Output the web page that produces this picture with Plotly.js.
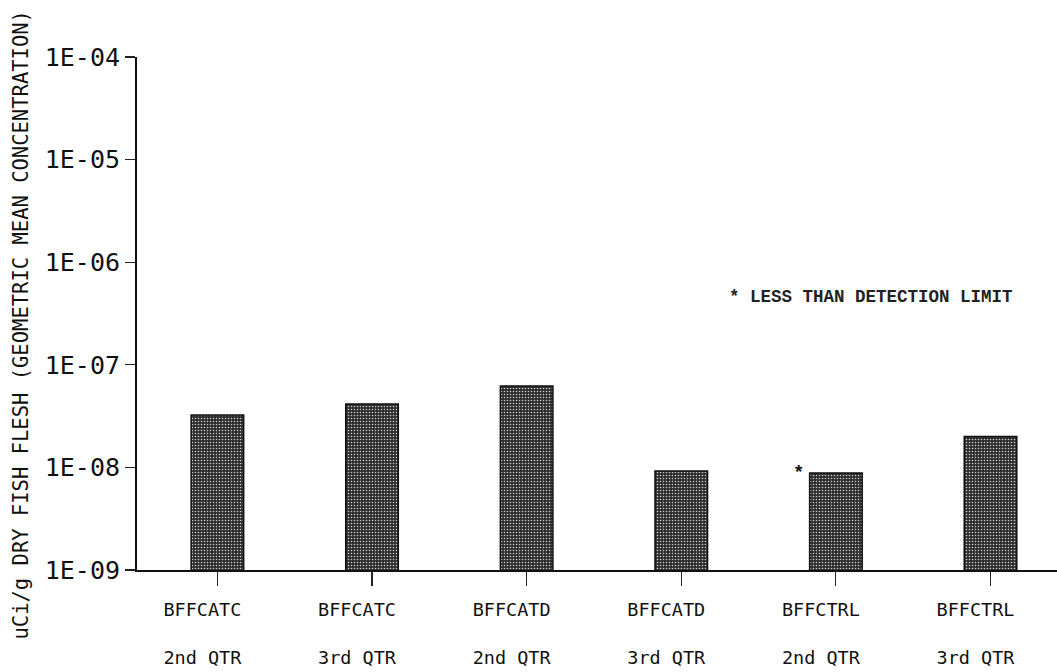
<!DOCTYPE html>
<html>
<head>
<meta charset="utf-8">
<script src="https://cdn.plot.ly/plotly-3.0.1.min.js"></script>
<style>html,body{margin:0;padding:0;background:#fff;}#chart{width:1057px;height:672px;}</style>
</head>
<body>
<div id="chart"></div>
<script>
const stations = ["BFFCATC", "BFFCATC", "BFFCATD", "BFFCATD", "BFFCTRL", "BFFCTRL"];
const quarters = ["2nd QTR", "3rd QTR", "2nd QTR", "3rd QTR", "2nd QTR", "3rd QTR"];
const values = [3.25e-8, 4.15e-8, 6.2e-8, 9.2e-9, 8.8e-9, 2.0e-8];
const belowDetection = [false, false, false, false, true, false];
const yTickVals = [1e-9, 1e-8, 1e-7, 1e-6, 1e-5, 1e-4];
const yTickText = ["1E-09", "1E-08", "1E-07", "1E-06", "1E-05", "1E-04"];
const yTitle = "uCi/g DRY FISH FLESH (GEOMETRIC MEAN CONCENTRATION)";
const noteText = "* LESS THAN DETECTION LIMIT";

const cats = stations.map((s, i) => s + "|" + quarters[i] + "|" + i);
const tickText = stations.map((s, i) => s + "<br><br>" + quarters[i]);

const mono = "DejaVu Sans Mono";

const trace = {
  type: "bar",
  x: cats,
  y: values,
  width: 0.34,
  marker: {
    color: "#2e2e2e",
    line: {color: "#111", width: 1.5},
    pattern: {shape: ".", bgcolor: "#2e2e2e", fgcolor: "#c8c8c8", size: 3, solidity: 0.22, fillmode: "replace"}
  },
  hoverinfo: "skip"
};

const annotations = [];
cats.forEach((c, i) => {
  if (belowDetection[i]) {
    annotations.push({
      x: c, y: Math.log10(values[i]), xref: "x", yref: "y",
      text: "<b>*</b>", showarrow: false, xshift: -37, yshift: 0,
      font: {family: "Liberation Mono", size: 19, color: "#111"},
      xanchor: "center", yanchor: "middle"
    });
  }
});
annotations.push({
  x: 0.641, xref: "paper", y: -6.34, yref: "y",
  text: "<b>" + noteText + "</b>", showarrow: false,
  xanchor: "left", yanchor: "middle",
  font: {family: "Liberation Mono", size: 17.5, color: "#222"}
});
// y-axis title placed as a rotated annotation to match the reference centring
annotations.push({
  x: 0, xref: "paper", xshift: -117,
  y: 0.5, yref: "paper", yshift: -12,
  text: yTitle, textangle: -90, showarrow: false,
  xanchor: "center", yanchor: "middle",
  font: {family: mono, size: 20.5, color: "#111"}
});

const layout = {
  width: 1057, height: 672,
  margin: {l: 137, r: 0, t: 57, b: 102},
  paper_bgcolor: "#fff", plot_bgcolor: "#fff",
  showlegend: false,
  xaxis: {
    type: "category",
    range: [-0.52, 5.43],
    tickvals: cats, ticktext: tickText,
    ticks: "outside", ticklen: 14, tickwidth: 1.2, tickcolor: "#222",
    ticklabelstandoff: 8,
    ticklabelshift: -15,
    showline: true, linecolor: "#111", linewidth: 2,
    showgrid: false, zeroline: false,
    tickfont: {family: mono, size: 18.5, color: "#111"},
    fixedrange: true
  },
  yaxis: {
    type: "log",
    range: [-9, -4],
    tickvals: yTickVals, ticktext: yTickText,
    ticks: "outside", ticklen: 10, tickwidth: 1.2, tickcolor: "#222",
    showline: true, linecolor: "#111", linewidth: 2,
    showgrid: false, zeroline: false,
    tickfont: {family: mono, size: 25, color: "#111"},
    automargin: false,
    fixedrange: true
  },
  annotations: annotations
};

Plotly.newPlot("chart", [trace], layout, {displayModeBar: false, staticPlot: true});
</script>
</body>
</html>
